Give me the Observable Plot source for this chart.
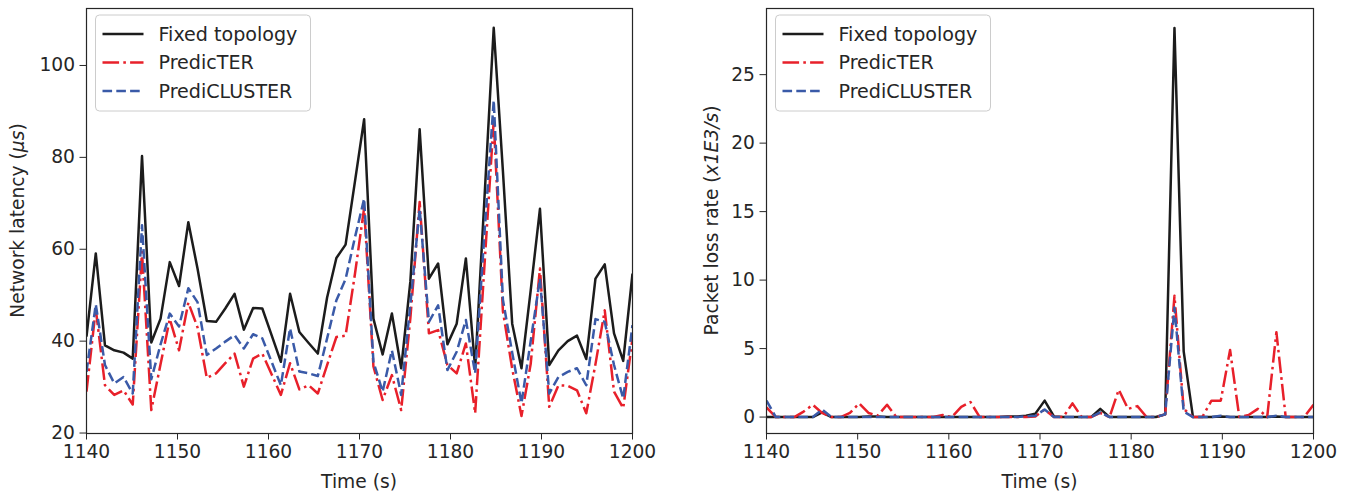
<!DOCTYPE html>
<html>
<head>
<meta charset="utf-8">
<script src="https://cdn.jsdelivr.net/npm/d3@7"></script>
<script src="https://cdn.jsdelivr.net/npm/@observablehq/plot@0.6"></script>
<style>
  html, body { margin: 0; padding: 0; background: white; }
  #wrap { display: flex; flex-direction: row; width: 1353px; height: 496px; }
  svg { display: block; }
</style>
</head>
<body>
<div id="wrap"></div>
<script>
// ---- data ----
const times = [1140.00, 1141.02, 1142.03, 1143.05, 1144.07, 1145.08, 1146.10, 1147.12, 1148.14, 1149.15,
  1150.17, 1151.19, 1152.20, 1153.22, 1154.24, 1155.25, 1156.27, 1157.29, 1158.31, 1159.32,
  1160.34, 1161.36, 1162.37, 1163.39, 1164.41, 1165.42, 1166.44, 1167.46, 1168.47, 1169.49,
  1170.51, 1171.53, 1172.54, 1173.56, 1174.58, 1175.59, 1176.61, 1177.63, 1178.64, 1179.66,
  1180.68, 1181.69, 1182.71, 1183.73, 1184.75, 1185.76, 1186.78, 1187.80, 1188.81, 1189.83,
  1190.85, 1191.86, 1192.88, 1193.90, 1194.92, 1195.93, 1196.95, 1197.97, 1198.98, 1200.00];

const seriesNames = ["Fixed topology", "PredicTER", "PrediCLUSTER"];

// Network latency (µs)
const latencyFixed = [41, 59.1, 39.1, 38.0, 37.5, 36.2, 80.3, 39.7, 44.9, 57.2,
  52.0, 65.9, 55.8, 44.4, 44.2, 47.1, 50.3, 42.5, 47.2, 47.1,
  41.3, 35.5, 50.3, 42.0, 39.6, 37.3, 49.5, 58.1, 61.0, 74.6,
  88.3, 44.9, 37.1, 46.0, 34.1, 53, 86.1, 53.6, 56.9, 39.3,
  43.8, 58.0, 34.1, 71, 108.2, 77, 43.8, 34.1, 51, 68.8,
  34.8, 38.0, 40.0, 41.2, 36.1, 53.6, 56.7, 41.7, 35.7, 54.7];
const latencyTer = [29.0, 47, 30.4, 28.3, 29.3, 26.2, 59.4, 25.0, 35, 44.8,
  38.0, 48.4, 43, 32.0, 33.0, 35.2, 37.3, 30.1, 36.2, 37.3,
  32.8, 28.3, 35.2, 29.5, 30.4, 28.6, 34.8, 40.9, 41.2, 54.5,
  69, 34.5, 27.2, 32.6, 25.0, 45, 70.3, 41.7, 42.4, 34.8,
  33.0, 39.5, 24.3, 56.4, 88.0, 46.5, 34, 23.7, 35, 55.8,
  25.7, 30.4, 30.3, 29.3, 24.3, 35, 46.7, 29.0, 25.4, 40.6];
const latencyCluster = [33.3, 48, 34.8, 30.8, 32.2, 28.6, 65.2, 31.7, 39.3, 46.0,
  43.2, 51.5, 48.5, 37.0, 38.4, 39.9, 41.3, 38.4, 41.5, 40.6,
  35.5, 30.4, 42.8, 33.4, 33.0, 32.4, 40.6, 48.9, 53.5, 62.5,
  71.0, 35.5, 29.0, 38.0, 28.3, 48, 68.8, 44.2, 47.8, 33.7,
  37.7, 44.6, 33, 63.4, 92.4, 49, 37.5, 26.5, 40, 53.6,
  28.6, 32.2, 33.3, 34.1, 30.4, 44.8, 44.2, 34.8, 27.5, 43.5];

// Packet loss rate (x1E3/s)
const lossFixed = [0, 0, 0, 0, 0, 0, 0.35, 0, 0, 0,
  0, 0.05, 0.05, 0, 0, 0, 0, 0, 0, 0,
  0, 0, 0, 0, 0, 0, 0.05, 0.05, 0.1, 0.25,
  1.2, 0.05, 0, 0, 0, 0, 0.6, 0, 0, 0,
  0, 0, 0, 0.2, 28.4, 4.8, 0, 0, 0, 0.05,
  0, 0, 0, 0, 0, 0.05, 0, 0, 0, 0];
const lossTer = [0.7, 0, 0, 0, 0.4, 0.9, 0.3, 0, 0, 0.3,
  1.0, 0.3, 0.1, 0.9, 0, 0, 0, 0, 0, 0.15,
  0, 0.75, 1.1, 0, 0, 0, 0, 0, 0, 0.05,
  0.55, 0, 0, 1.0, 0, 0, 0.3, 0, 2.0, 0.6,
  0.8, 0, 0, 0.2, 8.85, 0.6, 0, 0, 1.2, 1.2,
  4.9, 0, 0.15, 0.6, 0, 6.2, 0, 0, 0, 0.9];
const lossCluster = [1.2, 0, 0, 0, 0, 0, 0.55, 0, 0, 0,
  0, 0, 0, 0, 0, 0, 0, 0, 0, 0,
  0, 0, 0, 0, 0, 0, 0, 0, 0.05, 0.1,
  0.55, 0, 0, 0, 0, 0, 0.35, 0, 0, 0,
  0, 0, 0, 0.2, 8.0, 0.4, 0, 0, 0, 0.1,
  0, 0, 0, 0, 0, 0.1, 0, 0, 0, 0];

const xTicks = [1140, 1150, 1160, 1170, 1180, 1190, 1200];
const latencyTicks = [20, 40, 60, 80, 100];
const lossTicks = [0, 5, 10, 15, 20, 25];

// ---- styles ----
const FONT = "DejaVu Sans";
const FS = 18.67;
const LEG_FS = 19.1;
const INK = "#262626";
const LW = 2.5;
const styles = [
  {color: "#1c1c1c", dash: null},
  {color: "#e8202a", dash: "16.6,4.2,2.6,4.2"},
  {color: "#3a5aa8", dash: "9.6,4.2"}
];

function panel({width, marginLeft, marginRight, yDomain, yTicks, values, yLabelParts, yLabelX, legendX}) {
  const rows = (vals) => times.map((t, i) => ({t, v: vals[i]}));
  const lineMarks = values.map((vals, k) =>
    Plot.line(rows(vals), {
      x: "t", y: "v",
      stroke: styles[k].color,
      strokeWidth: LW,
      strokeDasharray: styles[k].dash ?? undefined,
      strokeLinejoin: "round",
      strokeLinecap: "butt",
      clip: true
    })
  );
  const svg = Plot.plot({
    width, height: 496,
    marginTop: 8, marginBottom: 63, marginLeft, marginRight,
    style: {fontFamily: FONT, fontSize: FS + "px", color: INK, background: "white", overflow: "visible"},
    x: {domain: [1140, 1200]},
    y: {domain: yDomain},
    marks: [
      ...lineMarks,
      Plot.frame({stroke: INK, strokeWidth: 1.2}),
      Plot.axisX({ticks: xTicks, tickFormat: d => String(d), label: null, tickSize: 6.5, tickPadding: 5, stroke: INK, fontSize: FS}),
      Plot.axisY({ticks: yTicks, tickFormat: d => String(d), label: null, tickSize: 6.5, tickPadding: 5, stroke: INK, fontSize: FS})
    ]
  });
  const s = d3.select(svg);
  const plotL = marginLeft, plotR = width - marginRight;
  // x axis label
  s.append("text")
    .attr("x", (plotL + plotR) / 2).attr("y", 488)
    .attr("text-anchor", "middle")
    .attr("font-family", FONT).attr("font-size", FS).attr("fill", INK)
    .text("Time (s)");
  // y axis label
  const yl = s.append("text")
    .attr("transform", `translate(${yLabelX},${(8 + 433) / 2}) rotate(-90)`)
    .attr("text-anchor", "middle")
    .attr("font-family", FONT).attr("font-size", FS).attr("fill", INK);
  yLabelParts.forEach(p => {
    const ts = yl.append("tspan").text(p.text);
    if (p.italic) ts.attr("font-style", "italic");
  });
  // legend
  const g = s.append("g").attr("text-anchor", "start");
  g.append("rect")
    .attr("x", legendX).attr("y", 15).attr("width", 215).attr("height", 96)
    .attr("rx", 4).attr("fill", "white").attr("fill-opacity", 0.8)
    .attr("stroke", "#cccccc").attr("stroke-width", 1);
  seriesNames.forEach((name, k) => {
    const y = 34 + k * 28.5;
    const ln = g.append("line")
      .attr("x1", legendX + 7).attr("x2", legendX + 48)
      .attr("y1", y).attr("y2", y)
      .attr("stroke", styles[k].color).attr("stroke-width", LW);
    if (styles[k].dash) ln.attr("stroke-dasharray", styles[k].dash);
    g.append("text")
      .attr("x", legendX + 63).attr("y", y).attr("dy", "0.35em")
      .attr("text-anchor", "start")
      .attr("font-family", FONT).attr("font-size", LEG_FS).attr("fill", INK)
      .text(name);
  });
  return svg;
}

const wrap = document.getElementById("wrap");
wrap.appendChild(panel({
  width: 676, marginLeft: 86, marginRight: 44,
  yDomain: [19.9, 112.4], yTicks: latencyTicks,
  values: [latencyFixed, latencyTer, latencyCluster],
  yLabelParts: [{text: "Network latency ("}, {text: "μs", italic: true}, {text: ")"}],
  yLabelX: 24, legendX: 95.5
}));
wrap.appendChild(panel({
  width: 677, marginLeft: 90, marginRight: 40,
  yDomain: [-1.2, 29.83], yTicks: lossTicks,
  values: [lossFixed, lossTer, lossCluster],
  yLabelParts: [{text: "Packet loss rate ("}, {text: "x1E3/s", italic: true}, {text: ")"}],
  yLabelX: 42, legendX: 99.5
}));
</script>
</body>
</html>
